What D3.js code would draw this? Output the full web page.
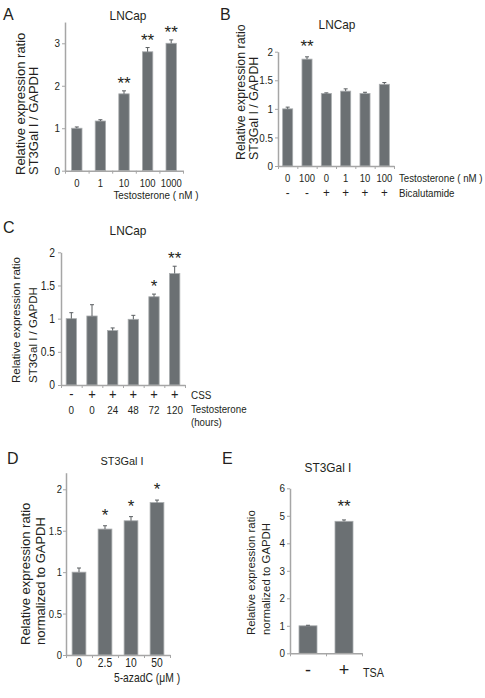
<!DOCTYPE html>
<html><head><meta charset="utf-8">
<script src="https://cdn.jsdelivr.net/npm/d3@7"></script>
<style>
html,body{margin:0;padding:0;background:#fff;}
svg{display:block;font-family:"Liberation Sans",Arial,sans-serif;}
</style></head>
<body>
<svg id="fig" width="485" height="698"></svg>
<script>
// ---------- DATA ----------
// Panel A
const catsA = ["0","1","10","100","1000"];
const valsA = [1.0, 1.17, 1.81, 2.80, 3.00];
const errA  = [0.03, 0.03, 0.07, 0.10, 0.08];
const sigA  = ["","","**","**","**"];
const ticksA = [0,1,2,3];
// Panel B
const catsB = ["0","100","0","1","10","100"];
const bicaB = ["-","-","+","+","+","+"];
const valsB = [1.0, 1.87, 1.27, 1.31, 1.27, 1.43];
const errB  = [0.03, 0.04, 0.01, 0.04, 0.02, 0.03];
const sigB  = ["","**","","","",""];
const ticksB = [0,0.5,1,1.5,2];
// Panel C
const cssC   = ["-","+","+","+","+","+"];
const hoursC = ["0","0","24","48","72","120"];
const valsC  = [1.0, 1.04, 0.82, 0.99, 1.33, 1.68];
const errC   = [0.09, 0.17, 0.04, 0.06, 0.04, 0.11];
const sigC   = ["","","","","*","**"];
const ticksC = [0,0.5,1,1.5,2];
// Panel D
const catsD = ["0","2.5","10","50"];
const valsD = [1.0, 1.52, 1.62, 1.84];
const errD  = [0.05, 0.04, 0.05, 0.03];
const sigD  = ["","*","*","*"];
const ticksD = [0,0.5,1,1.5,2];
// Panel E
const catsE = ["-","+"];
const valsE = [1.0, 4.80];
const errE  = [0.02, 0.05];
const sigE  = ["","**"];
const ticksE = [0,1,2,3,4,5,6];

// ---------- STYLE ----------
const BAR = "#6b7073", BAR_EDGE = "#a9acae", AXIS = "#a6a6a6", TXT = "#231f20";
const NARROW = 0.86;
const svg = d3.select("#fig");

function txt(x, y, s, size, anchor, sx) {
  return svg.append("text")
    .attr("transform", `translate(${x},${y}) scale(${sx || 1},1)`)
    .text(s).attr("font-size", size).attr("fill", TXT)
    .attr("text-anchor", anchor || "start");
}
function ylab(x, yStart, s, size) {
  return svg.append("text").attr("transform", `translate(${x},${yStart}) rotate(-90)`)
    .attr("font-size", size).attr("fill", TXT).text(s);
}

function panel(cfg) {
  const n = cfg.vals.length;
  const x = d3.scaleBand().domain(d3.range(n)).range([cfg.x0, cfg.x1]).paddingInner(0).paddingOuter(0);
  const xb = d3.scaleLinear().domain([0, n]).range([cfg.x0, cfg.x1]);
  const y = d3.scaleLinear().domain([0, cfg.yTop]).range([cfg.yBase, cfg.yBase - cfg.yTop * cfg.ppu]);
  const g = svg.append("g");
  const bw = x.bandwidth() * cfg.barFrac;
  // bars
  g.selectAll("rect.bar").data(cfg.vals).join("rect")
    .attr("x", (d, i) => x(i) + (x.bandwidth() - bw) / 2)
    .attr("y", d => y(d))
    .attr("width", bw)
    .attr("height", d => y(0) - y(d))
    .attr("fill", BAR).attr("stroke", BAR_EDGE).attr("stroke-width", 0.8);
  // error bars (upper only)
  const eg = g.append("g").attr("stroke", "#5a5e61").attr("stroke-width", 1);
  cfg.vals.forEach((v, i) => {
    const cx = x(i) + x.bandwidth() / 2;
    const e = cfg.err[i];
    eg.append("line").attr("x1", cx).attr("x2", cx).attr("y1", y(v)).attr("y2", y(v + e));
    eg.append("line").attr("x1", cx - 2).attr("x2", cx + 2).attr("y1", y(v + e)).attr("y2", y(v + e));
  });
  // significance
  cfg.vals.forEach((v, i) => {
    if (!cfg.sig[i]) return;
    const cx = x(i) + x.bandwidth() / 2;
    g.append("text").attr("x", cx).attr("y", y(v + cfg.err[i]) - cfg.sigOff + 7)
      .attr("text-anchor", "middle").attr("font-size", 17).attr("fill", TXT).text(cfg.sig[i]);
  });
  // y axis
  const ya = d3.axisLeft(y).tickValues(cfg.ticks).tickSize(3).tickSizeOuter(0)
    .tickPadding(cfg.tickPad).tickFormat(d3.format("~g"));
  const yg = g.append("g").attr("transform", `translate(${cfg.x0},0)`).call(ya);
  yg.select(".domain").attr("stroke", AXIS).attr("stroke-width", 1.5);
  yg.selectAll(".tick line").attr("stroke", AXIS).attr("stroke-width", 1);
  yg.selectAll(".tick text").attr("fill", TXT).attr("font-size", cfg.tickFont)
    .attr("font-family", "'Liberation Sans',Arial,sans-serif")
    .attr("transform", `scale(${NARROW},1)`)
    .attr("x", -(3 + cfg.tickPad) / NARROW);
  // x axis line with boundary ticks
  const xa = d3.axisBottom(xb).tickValues(d3.range(n + 1)).tickSize(3).tickSizeOuter(0).tickFormat("");
  const xg = g.append("g").attr("transform", `translate(0,${cfg.yBase})`).call(xa);
  xg.select(".domain").attr("stroke", AXIS).attr("stroke-width", 1.5);
  xg.selectAll(".tick line").attr("stroke", AXIS).attr("stroke-width", 1);
  // category label rows
  cfg.rows.forEach(r => {
    r.labels.forEach((s, i) => {
      txt(x(i) + x.bandwidth() / 2, r.y, s, r.size, "middle", r.sx || NARROW);
    });
  });
  return { x, y };
}

// ---------- PANEL A ----------
panel({ vals: valsA, err: errA, sig: sigA, ticks: ticksA,
  x0: 65, x1: 183, yBase: 170.7, yTop: 3.5, ppu: 42.47, barFrac: 0.44,
  tickPad: 2, tickFont: 11.5, sigOff: 9,
  rows: [{ labels: catsA, y: 187, size: 11 }] });
txt(3, 20, "A", 16);
txt(128, 20, "LNCap", 12.5, "middle", 0.95);
ylab(24.5, 175, "Relative expression ratio", 13);
ylab(37.5, 175, "ST3Gal I / GAPDH", 13);
txt(156, 198.5, "Testosterone ( nM )", 11.5, "middle", NARROW);

// ---------- PANEL B ----------
panel({ vals: valsB, err: errB, sig: sigB, ticks: ticksB,
  x0: 278, x1: 394, yBase: 166, yTop: 2, ppu: 57.15, barFrac: 0.52,
  tickPad: 2, tickFont: 11.5, sigOff: 12,
  rows: [{ labels: catsB, y: 182, size: 11 }, { labels: bicaB, y: 197, size: 13.5 }] });
txt(220, 20, "B", 16);
txt(337, 29, "LNCap", 12.5, "middle", 0.95);
ylab(244.5, 160, "Relative expression ratio", 12.4);
ylab(257.5, 160, "ST3Gal I / GAPDH", 12.4);
txt(399, 182, "Testosterone ( nM )", 11.3, "start", NARROW);
txt(399, 197, "Bicalutamide", 11.3, "start", NARROW);

// ---------- PANEL C ----------
panel({ vals: valsC, err: errC, sig: sigC, ticks: ticksC,
  x0: 61, x1: 185, yBase: 385, yTop: 2, ppu: 66.35, barFrac: 0.5,
  tickPad: 3, tickFont: 12, sigOff: 9,
  rows: [{ labels: cssC, y: 399, size: 15 }, { labels: hoursC, y: 413.5, size: 11.5 }] });
txt(3, 233, "C", 16);
txt(128, 235, "LNCap", 12.5, "middle", 0.95);
ylab(19.5, 383, "Relative expression ratio", 11.5);
ylab(36.5, 383, "ST3Gal I / GAPDH", 11.5);
txt(191, 398.5, "CSS", 11.5, "start", NARROW);
txt(191, 413, "Testosterone", 11.3, "start", NARROW);
txt(191, 426, "(hours)", 11.3, "start", NARROW);

// ---------- PANEL D ----------
panel({ vals: valsD, err: errD, sig: sigD, ticks: ticksD,
  x0: 66, x1: 170, yBase: 655, yTop: 2.2, ppu: 82.85, barFrac: 0.53,
  tickPad: 1, tickFont: 11, sigOff: 12,
  rows: [{ labels: catsD, y: 667, size: 12 }] });
txt(7, 464, "D", 16);
txt(122, 465, "ST3Gal I", 11.5, "middle", 0.95);
ylab(29.5, 645, "Relative expression ratio", 13);
ylab(44.5, 645, "normalized to GAPDH", 13);
txt(147, 682, "5-azadC (\u03bcM )", 12, "middle", NARROW);

// ---------- PANEL E ----------
panel({ vals: valsE, err: errE, sig: sigE, ticks: ticksE,
  x0: 290, x1: 362, yBase: 653.3, yTop: 6, ppu: 27.5, barFrac: 0.5,
  tickPad: 2, tickFont: 11.5, sigOff: 15,
  rows: [{ labels: catsE, y: 676, size: 18, sx: 1 }] });
txt(222, 464, "E", 16);
txt(328, 472, "ST3Gal I", 12.5, "middle", 0.95);
ylab(254.5, 635, "Relative expression ratio", 11.4);
ylab(269.5, 635, "normalized to GAPDH", 11.4);
txt(363, 677, "TSA", 12.5, "start", NARROW);
</script>
</body></html>
